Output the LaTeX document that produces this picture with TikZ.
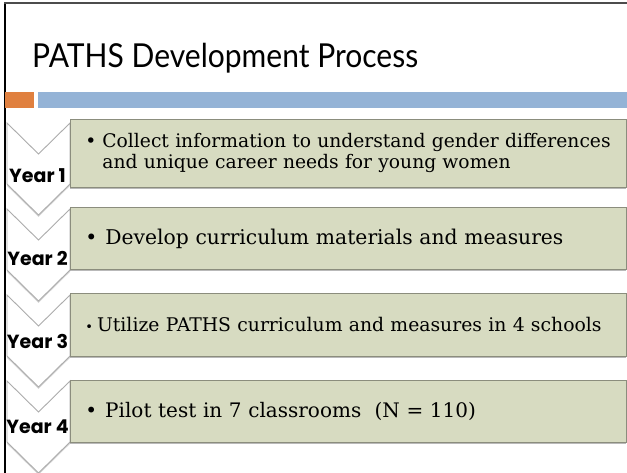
\documentclass[tikz,border=0pt]{standalone}
\usepackage{fontspec}
\setmainfont{DejaVu Serif}
\newfontfamily\titlefont{Lato}
\newfontfamily\yearfont{Poppins}
\usetikzlibrary{shadows}

\definecolor{barorange}{HTML}{E0803F}
\definecolor{barblue}{HTML}{94B3D6}
\definecolor{boxfill}{HTML}{D7DBC1}
\definecolor{boxline}{HTML}{8B8D7D}

\begin{document}
\begin{tikzpicture}[x=1pt,y=-1pt]
\tikzstyle{chevron}=[fill=white,draw=gray!65,line width=0.9pt,
  drop shadow={opacity=0.35,shadow xshift=0pt,shadow yshift=-1.8pt}]
\tikzstyle{stepbox}=[fill=boxfill,draw=boxline,line width=0.8pt,anchor=north west,
  text width=526pt,inner xsep=15pt,inner ysep=0pt,align=left,
  drop shadow={opacity=0.55,shadow xshift=0pt,shadow yshift=-1.6pt}]
\tikzstyle{yearlbl}=[font=\yearfont\bfseries\fontsize{19}{19}\selectfont,inner sep=0pt]

% white page, with the frame on the left and top
\useasboundingbox (0,0) rectangle (627,472);
\fill[white] (0,0) rectangle (627,472);
\draw[line width=2.5pt] (5,474) -- (5,3);
\draw[line width=1.5pt,gray!60!black] (4,3) -- (627,3);

% title and the two bars
\node[anchor=base west,inner sep=0pt,font=\titlefont\fontsize{33}{33}\selectfont] (title) at (32,67)
  {\scalebox{0.91}[1]{PATHS Development Process}};
\fill[barorange] (5,92) rectangle (34,108);
\fill[barblue] (38,92) rectangle (627,108);

% chevrons down the left side
\foreach \t in {123,209,295,381}
  \draw[chevron] (7,\t) -- (38.5,\t+31) -- (70,\t) -- (70,\t+61) -- (38.5,\t+92) -- (7,\t+61) -- cycle;

% boxes
\node[stepbox,minimum height=68pt,font=\fontsize{18.7}{21}\selectfont] (b1) at (70,119)
  {\textbullet\hspace{6pt}Collect information to understand gender differences\\\hphantom{\textbullet\hspace{6pt}}and unique career needs for young women};
\node[stepbox,minimum height=62pt,font=\fontsize{20.3}{24}\selectfont] (b2) at (70,207)
  {\textbullet\hspace{8pt}Develop curriculum materials and measures};
\node[stepbox,minimum height=63pt,font=\fontsize{18.8}{21}\selectfont] (b3) at (70,293)
  {{\fontsize{13}{13}\selectfont\textbullet}\hspace{4pt}Utilize PATHS curriculum and measures in 4 schools};
\node[stepbox,minimum height=62pt,font=\fontsize{20}{24}\selectfont] (b4) at (70,380)
  {\textbullet\hspace{8pt}Pilot test in 7 classrooms\ \ (N = 110)};

% year labels
\foreach \y/\label in {176/1,258/2,341/3,427/4}
  \node[yearlbl] (year\label) at (37.5,\y) {Year \label};

\end{tikzpicture}
\end{document}
